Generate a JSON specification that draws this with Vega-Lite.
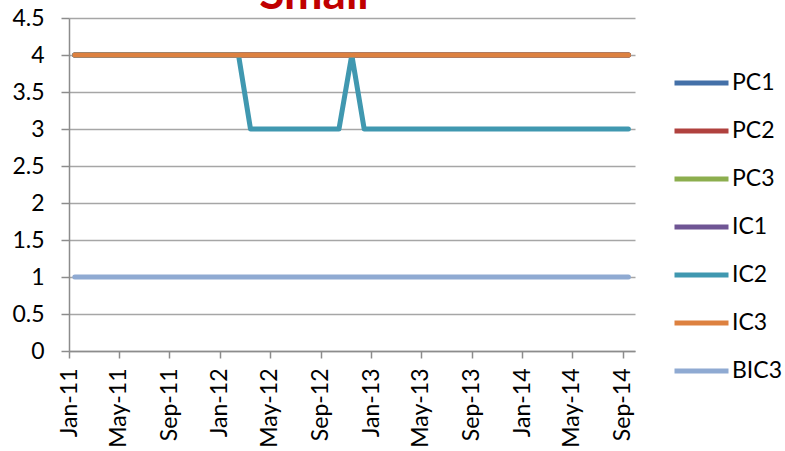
{
  "$schema": "https://vega.github.io/schema/vega-lite/v6.json",
  "autosize": {"type": "none"},
  "width": 566,
  "height": 333,
  "padding": {"left": 69, "top": 18, "right": 150, "bottom": 100},
  "background": "white",
  "config": {
    "view": {"stroke": null},
    "font": "Lato",
    "axis": {"labelFont": "Lato", "labelColor": "#000000", "domainColor": "#8C8C8C", "tickColor": "#8C8C8C", "gridColor": "#A6A6A6", "domainWidth": 1.5, "tickWidth": 1.5}
  },
  "title": {"text": "Small", "font": "Lato", "fontSize": 46, "fontWeight": "bold", "color": "#C00000", "anchor": "middle", "frame": "group", "baseline": "alphabetic", "offset": -48, "dx": -38},
  "data": {
    "format": {"parse": {"d": "utc:'%Y-%m-%d'"}},
    "values": [
      {"s":"PC1","d":"2011-01-15","v":4},{"s":"PC1","d":"2011-02-15","v":4},{"s":"PC1","d":"2011-03-15","v":4},{"s":"PC1","d":"2011-04-15","v":4},{"s":"PC1","d":"2011-05-15","v":4},{"s":"PC1","d":"2011-06-15","v":4},{"s":"PC1","d":"2011-07-15","v":4},{"s":"PC1","d":"2011-08-15","v":4},{"s":"PC1","d":"2011-09-15","v":4},{"s":"PC1","d":"2011-10-15","v":4},{"s":"PC1","d":"2011-11-15","v":4},{"s":"PC1","d":"2011-12-15","v":4},
      {"s":"PC1","d":"2012-01-15","v":4},{"s":"PC1","d":"2012-02-15","v":4},{"s":"PC1","d":"2012-03-15","v":4},{"s":"PC1","d":"2012-04-15","v":4},{"s":"PC1","d":"2012-05-15","v":4},{"s":"PC1","d":"2012-06-15","v":4},{"s":"PC1","d":"2012-07-15","v":4},{"s":"PC1","d":"2012-08-15","v":4},{"s":"PC1","d":"2012-09-15","v":4},{"s":"PC1","d":"2012-10-15","v":4},{"s":"PC1","d":"2012-11-15","v":4},{"s":"PC1","d":"2012-12-15","v":4},
      {"s":"PC1","d":"2013-01-15","v":4},{"s":"PC1","d":"2013-02-15","v":4},{"s":"PC1","d":"2013-03-15","v":4},{"s":"PC1","d":"2013-04-15","v":4},{"s":"PC1","d":"2013-05-15","v":4},{"s":"PC1","d":"2013-06-15","v":4},{"s":"PC1","d":"2013-07-15","v":4},{"s":"PC1","d":"2013-08-15","v":4},{"s":"PC1","d":"2013-09-15","v":4},{"s":"PC1","d":"2013-10-15","v":4},{"s":"PC1","d":"2013-11-15","v":4},{"s":"PC1","d":"2013-12-15","v":4},
      {"s":"PC1","d":"2014-01-15","v":4},{"s":"PC1","d":"2014-02-15","v":4},{"s":"PC1","d":"2014-03-15","v":4},{"s":"PC1","d":"2014-04-15","v":4},{"s":"PC1","d":"2014-05-15","v":4},{"s":"PC1","d":"2014-06-15","v":4},{"s":"PC1","d":"2014-07-15","v":4},{"s":"PC1","d":"2014-08-15","v":4},{"s":"PC1","d":"2014-09-15","v":4},

      {"s":"PC2","d":"2011-01-15","v":4},{"s":"PC2","d":"2011-02-15","v":4},{"s":"PC2","d":"2011-03-15","v":4},{"s":"PC2","d":"2011-04-15","v":4},{"s":"PC2","d":"2011-05-15","v":4},{"s":"PC2","d":"2011-06-15","v":4},{"s":"PC2","d":"2011-07-15","v":4},{"s":"PC2","d":"2011-08-15","v":4},{"s":"PC2","d":"2011-09-15","v":4},{"s":"PC2","d":"2011-10-15","v":4},{"s":"PC2","d":"2011-11-15","v":4},{"s":"PC2","d":"2011-12-15","v":4},
      {"s":"PC2","d":"2012-01-15","v":4},{"s":"PC2","d":"2012-02-15","v":4},{"s":"PC2","d":"2012-03-15","v":4},{"s":"PC2","d":"2012-04-15","v":4},{"s":"PC2","d":"2012-05-15","v":4},{"s":"PC2","d":"2012-06-15","v":4},{"s":"PC2","d":"2012-07-15","v":4},{"s":"PC2","d":"2012-08-15","v":4},{"s":"PC2","d":"2012-09-15","v":4},{"s":"PC2","d":"2012-10-15","v":4},{"s":"PC2","d":"2012-11-15","v":4},{"s":"PC2","d":"2012-12-15","v":4},
      {"s":"PC2","d":"2013-01-15","v":4},{"s":"PC2","d":"2013-02-15","v":4},{"s":"PC2","d":"2013-03-15","v":4},{"s":"PC2","d":"2013-04-15","v":4},{"s":"PC2","d":"2013-05-15","v":4},{"s":"PC2","d":"2013-06-15","v":4},{"s":"PC2","d":"2013-07-15","v":4},{"s":"PC2","d":"2013-08-15","v":4},{"s":"PC2","d":"2013-09-15","v":4},{"s":"PC2","d":"2013-10-15","v":4},{"s":"PC2","d":"2013-11-15","v":4},{"s":"PC2","d":"2013-12-15","v":4},
      {"s":"PC2","d":"2014-01-15","v":4},{"s":"PC2","d":"2014-02-15","v":4},{"s":"PC2","d":"2014-03-15","v":4},{"s":"PC2","d":"2014-04-15","v":4},{"s":"PC2","d":"2014-05-15","v":4},{"s":"PC2","d":"2014-06-15","v":4},{"s":"PC2","d":"2014-07-15","v":4},{"s":"PC2","d":"2014-08-15","v":4},{"s":"PC2","d":"2014-09-15","v":4},

      {"s":"PC3","d":"2011-01-15","v":4},{"s":"PC3","d":"2011-02-15","v":4},{"s":"PC3","d":"2011-03-15","v":4},{"s":"PC3","d":"2011-04-15","v":4},{"s":"PC3","d":"2011-05-15","v":4},{"s":"PC3","d":"2011-06-15","v":4},{"s":"PC3","d":"2011-07-15","v":4},{"s":"PC3","d":"2011-08-15","v":4},{"s":"PC3","d":"2011-09-15","v":4},{"s":"PC3","d":"2011-10-15","v":4},{"s":"PC3","d":"2011-11-15","v":4},{"s":"PC3","d":"2011-12-15","v":4},
      {"s":"PC3","d":"2012-01-15","v":4},{"s":"PC3","d":"2012-02-15","v":4},{"s":"PC3","d":"2012-03-15","v":4},{"s":"PC3","d":"2012-04-15","v":4},{"s":"PC3","d":"2012-05-15","v":4},{"s":"PC3","d":"2012-06-15","v":4},{"s":"PC3","d":"2012-07-15","v":4},{"s":"PC3","d":"2012-08-15","v":4},{"s":"PC3","d":"2012-09-15","v":4},{"s":"PC3","d":"2012-10-15","v":4},{"s":"PC3","d":"2012-11-15","v":4},{"s":"PC3","d":"2012-12-15","v":4},
      {"s":"PC3","d":"2013-01-15","v":4},{"s":"PC3","d":"2013-02-15","v":4},{"s":"PC3","d":"2013-03-15","v":4},{"s":"PC3","d":"2013-04-15","v":4},{"s":"PC3","d":"2013-05-15","v":4},{"s":"PC3","d":"2013-06-15","v":4},{"s":"PC3","d":"2013-07-15","v":4},{"s":"PC3","d":"2013-08-15","v":4},{"s":"PC3","d":"2013-09-15","v":4},{"s":"PC3","d":"2013-10-15","v":4},{"s":"PC3","d":"2013-11-15","v":4},{"s":"PC3","d":"2013-12-15","v":4},
      {"s":"PC3","d":"2014-01-15","v":4},{"s":"PC3","d":"2014-02-15","v":4},{"s":"PC3","d":"2014-03-15","v":4},{"s":"PC3","d":"2014-04-15","v":4},{"s":"PC3","d":"2014-05-15","v":4},{"s":"PC3","d":"2014-06-15","v":4},{"s":"PC3","d":"2014-07-15","v":4},{"s":"PC3","d":"2014-08-15","v":4},{"s":"PC3","d":"2014-09-15","v":4},

      {"s":"IC1","d":"2011-01-15","v":4},{"s":"IC1","d":"2011-02-15","v":4},{"s":"IC1","d":"2011-03-15","v":4},{"s":"IC1","d":"2011-04-15","v":4},{"s":"IC1","d":"2011-05-15","v":4},{"s":"IC1","d":"2011-06-15","v":4},{"s":"IC1","d":"2011-07-15","v":4},{"s":"IC1","d":"2011-08-15","v":4},{"s":"IC1","d":"2011-09-15","v":4},{"s":"IC1","d":"2011-10-15","v":4},{"s":"IC1","d":"2011-11-15","v":4},{"s":"IC1","d":"2011-12-15","v":4},
      {"s":"IC1","d":"2012-01-15","v":4},{"s":"IC1","d":"2012-02-15","v":4},{"s":"IC1","d":"2012-03-15","v":4},{"s":"IC1","d":"2012-04-15","v":4},{"s":"IC1","d":"2012-05-15","v":4},{"s":"IC1","d":"2012-06-15","v":4},{"s":"IC1","d":"2012-07-15","v":4},{"s":"IC1","d":"2012-08-15","v":4},{"s":"IC1","d":"2012-09-15","v":4},{"s":"IC1","d":"2012-10-15","v":4},{"s":"IC1","d":"2012-11-15","v":4},{"s":"IC1","d":"2012-12-15","v":4},
      {"s":"IC1","d":"2013-01-15","v":4},{"s":"IC1","d":"2013-02-15","v":4},{"s":"IC1","d":"2013-03-15","v":4},{"s":"IC1","d":"2013-04-15","v":4},{"s":"IC1","d":"2013-05-15","v":4},{"s":"IC1","d":"2013-06-15","v":4},{"s":"IC1","d":"2013-07-15","v":4},{"s":"IC1","d":"2013-08-15","v":4},{"s":"IC1","d":"2013-09-15","v":4},{"s":"IC1","d":"2013-10-15","v":4},{"s":"IC1","d":"2013-11-15","v":4},{"s":"IC1","d":"2013-12-15","v":4},
      {"s":"IC1","d":"2014-01-15","v":4},{"s":"IC1","d":"2014-02-15","v":4},{"s":"IC1","d":"2014-03-15","v":4},{"s":"IC1","d":"2014-04-15","v":4},{"s":"IC1","d":"2014-05-15","v":4},{"s":"IC1","d":"2014-06-15","v":4},{"s":"IC1","d":"2014-07-15","v":4},{"s":"IC1","d":"2014-08-15","v":4},{"s":"IC1","d":"2014-09-15","v":4},

      {"s":"IC2","d":"2011-01-15","v":4},{"s":"IC2","d":"2011-02-15","v":4},{"s":"IC2","d":"2011-03-15","v":4},{"s":"IC2","d":"2011-04-15","v":4},{"s":"IC2","d":"2011-05-15","v":4},{"s":"IC2","d":"2011-06-15","v":4},{"s":"IC2","d":"2011-07-15","v":4},{"s":"IC2","d":"2011-08-15","v":4},{"s":"IC2","d":"2011-09-15","v":4},{"s":"IC2","d":"2011-10-15","v":4},{"s":"IC2","d":"2011-11-15","v":4},{"s":"IC2","d":"2011-12-15","v":4},
      {"s":"IC2","d":"2012-01-15","v":4},{"s":"IC2","d":"2012-02-15","v":4},{"s":"IC2","d":"2012-03-15","v":3},{"s":"IC2","d":"2012-04-15","v":3},{"s":"IC2","d":"2012-05-15","v":3},{"s":"IC2","d":"2012-06-15","v":3},{"s":"IC2","d":"2012-07-15","v":3},{"s":"IC2","d":"2012-08-15","v":3},{"s":"IC2","d":"2012-09-15","v":3},{"s":"IC2","d":"2012-10-15","v":3},{"s":"IC2","d":"2012-11-15","v":4},{"s":"IC2","d":"2012-12-15","v":3},
      {"s":"IC2","d":"2013-01-15","v":3},{"s":"IC2","d":"2013-02-15","v":3},{"s":"IC2","d":"2013-03-15","v":3},{"s":"IC2","d":"2013-04-15","v":3},{"s":"IC2","d":"2013-05-15","v":3},{"s":"IC2","d":"2013-06-15","v":3},{"s":"IC2","d":"2013-07-15","v":3},{"s":"IC2","d":"2013-08-15","v":3},{"s":"IC2","d":"2013-09-15","v":3},{"s":"IC2","d":"2013-10-15","v":3},{"s":"IC2","d":"2013-11-15","v":3},{"s":"IC2","d":"2013-12-15","v":3},
      {"s":"IC2","d":"2014-01-15","v":3},{"s":"IC2","d":"2014-02-15","v":3},{"s":"IC2","d":"2014-03-15","v":3},{"s":"IC2","d":"2014-04-15","v":3},{"s":"IC2","d":"2014-05-15","v":3},{"s":"IC2","d":"2014-06-15","v":3},{"s":"IC2","d":"2014-07-15","v":3},{"s":"IC2","d":"2014-08-15","v":3},{"s":"IC2","d":"2014-09-15","v":3},

      {"s":"IC3","d":"2011-01-15","v":4},{"s":"IC3","d":"2011-02-15","v":4},{"s":"IC3","d":"2011-03-15","v":4},{"s":"IC3","d":"2011-04-15","v":4},{"s":"IC3","d":"2011-05-15","v":4},{"s":"IC3","d":"2011-06-15","v":4},{"s":"IC3","d":"2011-07-15","v":4},{"s":"IC3","d":"2011-08-15","v":4},{"s":"IC3","d":"2011-09-15","v":4},{"s":"IC3","d":"2011-10-15","v":4},{"s":"IC3","d":"2011-11-15","v":4},{"s":"IC3","d":"2011-12-15","v":4},
      {"s":"IC3","d":"2012-01-15","v":4},{"s":"IC3","d":"2012-02-15","v":4},{"s":"IC3","d":"2012-03-15","v":4},{"s":"IC3","d":"2012-04-15","v":4},{"s":"IC3","d":"2012-05-15","v":4},{"s":"IC3","d":"2012-06-15","v":4},{"s":"IC3","d":"2012-07-15","v":4},{"s":"IC3","d":"2012-08-15","v":4},{"s":"IC3","d":"2012-09-15","v":4},{"s":"IC3","d":"2012-10-15","v":4},{"s":"IC3","d":"2012-11-15","v":4},{"s":"IC3","d":"2012-12-15","v":4},
      {"s":"IC3","d":"2013-01-15","v":4},{"s":"IC3","d":"2013-02-15","v":4},{"s":"IC3","d":"2013-03-15","v":4},{"s":"IC3","d":"2013-04-15","v":4},{"s":"IC3","d":"2013-05-15","v":4},{"s":"IC3","d":"2013-06-15","v":4},{"s":"IC3","d":"2013-07-15","v":4},{"s":"IC3","d":"2013-08-15","v":4},{"s":"IC3","d":"2013-09-15","v":4},{"s":"IC3","d":"2013-10-15","v":4},{"s":"IC3","d":"2013-11-15","v":4},{"s":"IC3","d":"2013-12-15","v":4},
      {"s":"IC3","d":"2014-01-15","v":4},{"s":"IC3","d":"2014-02-15","v":4},{"s":"IC3","d":"2014-03-15","v":4},{"s":"IC3","d":"2014-04-15","v":4},{"s":"IC3","d":"2014-05-15","v":4},{"s":"IC3","d":"2014-06-15","v":4},{"s":"IC3","d":"2014-07-15","v":4},{"s":"IC3","d":"2014-08-15","v":4},{"s":"IC3","d":"2014-09-15","v":4},

      {"s":"BIC3","d":"2011-01-15","v":1},{"s":"BIC3","d":"2011-02-15","v":1},{"s":"BIC3","d":"2011-03-15","v":1},{"s":"BIC3","d":"2011-04-15","v":1},{"s":"BIC3","d":"2011-05-15","v":1},{"s":"BIC3","d":"2011-06-15","v":1},{"s":"BIC3","d":"2011-07-15","v":1},{"s":"BIC3","d":"2011-08-15","v":1},{"s":"BIC3","d":"2011-09-15","v":1},{"s":"BIC3","d":"2011-10-15","v":1},{"s":"BIC3","d":"2011-11-15","v":1},{"s":"BIC3","d":"2011-12-15","v":1},
      {"s":"BIC3","d":"2012-01-15","v":1},{"s":"BIC3","d":"2012-02-15","v":1},{"s":"BIC3","d":"2012-03-15","v":1},{"s":"BIC3","d":"2012-04-15","v":1},{"s":"BIC3","d":"2012-05-15","v":1},{"s":"BIC3","d":"2012-06-15","v":1},{"s":"BIC3","d":"2012-07-15","v":1},{"s":"BIC3","d":"2012-08-15","v":1},{"s":"BIC3","d":"2012-09-15","v":1},{"s":"BIC3","d":"2012-10-15","v":1},{"s":"BIC3","d":"2012-11-15","v":1},{"s":"BIC3","d":"2012-12-15","v":1},
      {"s":"BIC3","d":"2013-01-15","v":1},{"s":"BIC3","d":"2013-02-15","v":1},{"s":"BIC3","d":"2013-03-15","v":1},{"s":"BIC3","d":"2013-04-15","v":1},{"s":"BIC3","d":"2013-05-15","v":1},{"s":"BIC3","d":"2013-06-15","v":1},{"s":"BIC3","d":"2013-07-15","v":1},{"s":"BIC3","d":"2013-08-15","v":1},{"s":"BIC3","d":"2013-09-15","v":1},{"s":"BIC3","d":"2013-10-15","v":1},{"s":"BIC3","d":"2013-11-15","v":1},{"s":"BIC3","d":"2013-12-15","v":1},
      {"s":"BIC3","d":"2014-01-15","v":1},{"s":"BIC3","d":"2014-02-15","v":1},{"s":"BIC3","d":"2014-03-15","v":1},{"s":"BIC3","d":"2014-04-15","v":1},{"s":"BIC3","d":"2014-05-15","v":1},{"s":"BIC3","d":"2014-06-15","v":1},{"s":"BIC3","d":"2014-07-15","v":1},{"s":"BIC3","d":"2014-08-15","v":1},{"s":"BIC3","d":"2014-09-15","v":1}
    ]
  },
  "mark": {"type": "line", "strokeWidth": 5, "strokeCap": "round", "strokeJoin": "round", "clip": false},
  "encoding": {
    "x": {
      "field": "d", "type": "temporal",
      "scale": {"type": "utc", "domain": [{"year": 2011, "month": 1, "date": 1, "utc": true}, {"year": 2014, "month": 10, "date": 1, "utc": true}], "nice": false},
      "axis": {
        "title": null, "grid": false,
        "labelExpr": "utcFormat(datum.value, '%b-%y')",
        "values": [
          {"year": 2011, "month": 1, "date": 1, "utc": true}, {"year": 2011, "month": 5, "date": 1, "utc": true}, {"year": 2011, "month": 9, "date": 1, "utc": true},
          {"year": 2012, "month": 1, "date": 1, "utc": true}, {"year": 2012, "month": 5, "date": 1, "utc": true}, {"year": 2012, "month": 9, "date": 1, "utc": true},
          {"year": 2013, "month": 1, "date": 1, "utc": true}, {"year": 2013, "month": 5, "date": 1, "utc": true}, {"year": 2013, "month": 9, "date": 1, "utc": true},
          {"year": 2014, "month": 1, "date": 1, "utc": true}, {"year": 2014, "month": 5, "date": 1, "utc": true}, {"year": 2014, "month": 9, "date": 1, "utc": true}
        ],
        "labelAngle": -90, "labelAlign": "right", "labelBaseline": "middle", "labelFontSize": 23, "labelPadding": 10, "tickSize": 7, "labelOverlap": false, "labelFlush": false
      }
    },
    "y": {
      "field": "v", "type": "quantitative",
      "scale": {"domain": [0, 4.5], "nice": false, "zero": true},
      "axis": {"title": null, "values": [0, 0.5, 1, 1.5, 2, 2.5, 3, 3.5, 4, 4.5], "format": "~f", "labelFontSize": 23, "tickSize": 8, "labelPadding": 17, "grid": true, "gridWidth": 1.5, "labelOverlap": false, "labelFlush": false}
    },
    "color": {
      "field": "s", "type": "nominal",
      "scale": {"domain": ["PC1", "PC2", "PC3", "IC1", "IC2", "IC3", "BIC3"], "range": ["#4470A8", "#B0413E", "#8CAE4E", "#6F5594", "#4098B0", "#DD8140", "#8FAAD2"]},
      "sort": ["PC1", "PC2", "PC3", "IC1", "IC2", "IC3", "BIC3"],
      "legend": {
        "title": null, "orient": "none", "legendX": 603, "legendY": 41, "padding": 0,
        "symbolType": "stroke", "symbolSize": 2916, "symbolStrokeWidth": 5, "clipHeight": 48, "rowPadding": 0,
        "labelOffset": 1, "labelFont": "Lato", "labelFontSize": 23, "labelColor": "#000000", "labelLimit": 200
      }
    }
  }
}
